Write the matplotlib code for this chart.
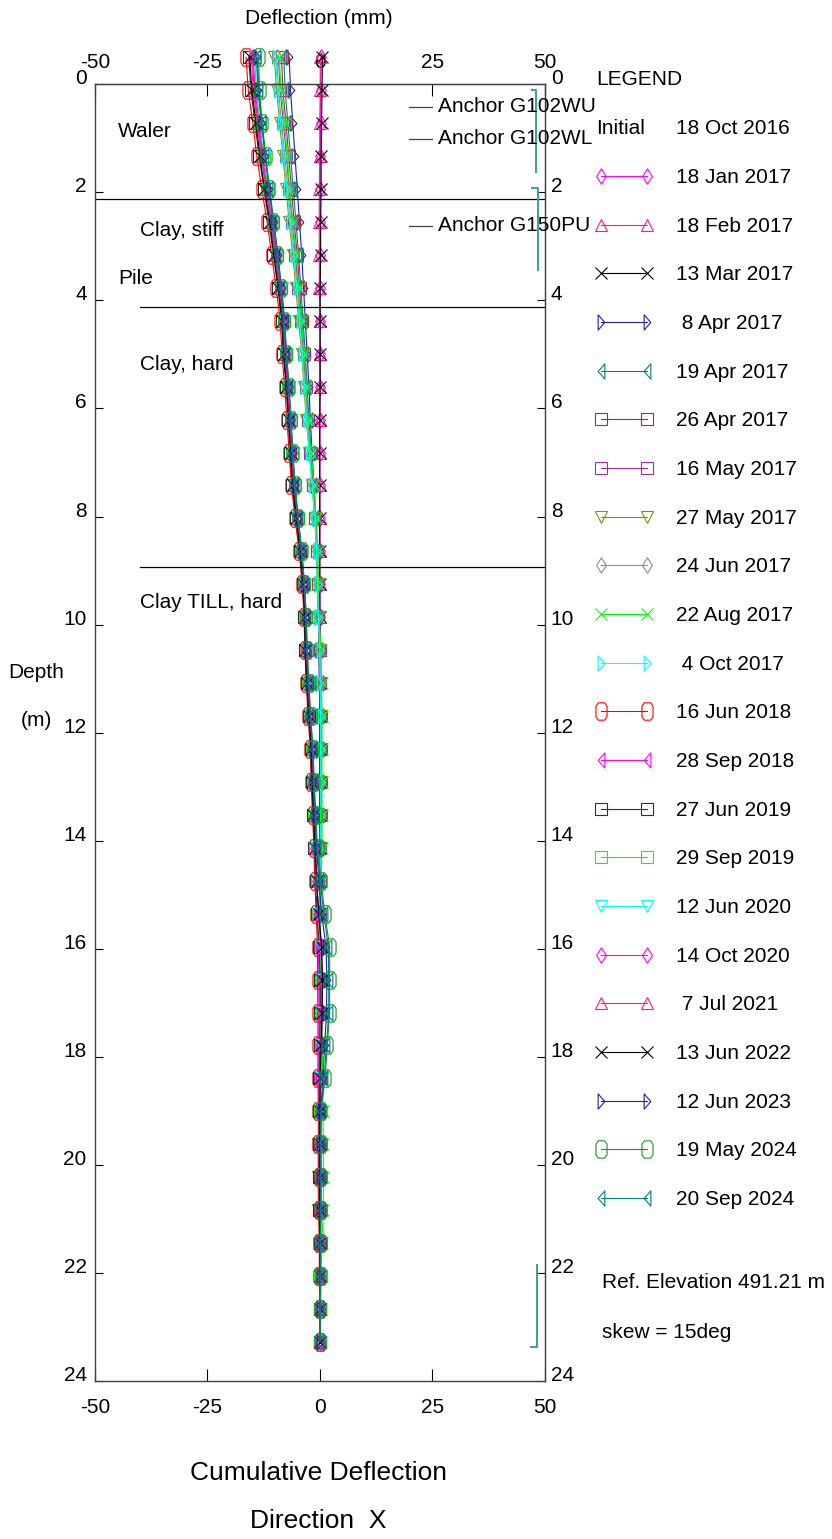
import matplotlib
matplotlib.use("Agg")
import matplotlib.pyplot as plt
from matplotlib.path import Path
from matplotlib.lines import Line2D

plt.rcParams['font.family'] = ['Liberation Sans', 'DejaVu Sans']
plt.rcParams['font.size'] = 15
plt.rcParams['axes.unicode_minus'] = False

# ---------------- data ----------------
DEPTHS = [-0.50, 0.11, 0.72, 1.33, 1.94, 2.55, 3.16, 3.77, 4.38, 4.99,
          5.60, 6.21, 6.82, 7.42, 8.03, 8.64, 9.25, 9.86, 10.47, 11.08,
          11.69, 12.30, 12.91, 13.52, 14.13, 14.74, 15.35, 15.96, 16.57, 17.18,
          17.78, 18.39, 19.00, 19.61, 20.22, 20.83, 21.44, 22.05, 22.66, 23.27]

INITIAL_DATE = "18 Oct 2016"
LABELS = ["18 Jan 2017", "18 Feb 2017", "13 Mar 2017", " 8 Apr 2017", "19 Apr 2017",
          "26 Apr 2017", "16 May 2017", "27 May 2017", "24 Jun 2017", "22 Aug 2017",
          " 4 Oct 2017", "16 Jun 2018", "28 Sep 2018", "27 Jun 2019", "29 Sep 2019",
          "12 Jun 2020", "14 Oct 2020", " 7 Jul 2021", "13 Jun 2022", "12 Jun 2023",
          "19 May 2024", "20 Sep 2024"]

D_18JAN17 = [0.3, 0.2, 0.2, 0.1, 0.1, 0.1, 0.0, 0.0, 0.0, 0.0,
             0.0, 0.0, 0.0, 0.0, 0.0, 0.0, 0.0, 0.1, 0.1, 0.1,
             0.1, 0.1, 0.1, 0.1, 0.1, 0.0, 0.0, 0.0, 0.0, 0.0,
             0.0, 0.0, 0.0, 0.0, 0.0, 0.0, 0.0, 0.0, 0.0, 0.0]
D_18FEB17 = [0.1, 0.1, 0.0, 0.0, -0.1, -0.1, -0.1, -0.1, 0.0, 0.0,
             0.0, 0.0, 0.0, 0.0, 0.0, 0.0, 0.0, 0.0, 0.0, 0.0,
             0.0, 0.0, 0.0, 0.0, 0.0, 0.0, 0.0, 0.0, 0.0, 0.0,
             0.0, 0.0, 0.0, 0.0, 0.0, 0.0, 0.0, 0.0, 0.0, 0.0]
D_13MAR17 = [0.6, 0.5, 0.4, 0.3, 0.3, 0.2, 0.2, 0.1, 0.1, 0.1,
             0.1, 0.0, 0.0, 0.0, 0.0, 0.0, 0.0, 0.0, 0.0, 0.0,
             0.0, 0.0, 0.0, 0.0, 0.0, 0.0, 0.0, 0.0, 0.0, 0.0,
             0.0, 0.0, 0.0, 0.0, 0.0, 0.0, 0.0, 0.0, 0.0, 0.0]
D_08APR17 = [-6.8, -6.5, -6.0, -5.5, -5.0, -4.5, -4.0, -3.6, -3.2, -2.8,
             -2.4, -2.1, -1.7, -1.3, -0.9, -0.6, -0.4, -0.3, -0.2, -0.1,
             0.0, 0.0, 0.0, 0.0, 0.0, 0.0, 0.0, 0.0, 0.0, 0.0,
             0.0, 0.0, 0.0, 0.0, 0.0, 0.0, 0.0, 0.0, 0.0, 0.0]
D_19APR17 = [-8.0, -7.7, -7.1, -6.5, -5.9, -5.3, -4.7, -4.2, -3.7, -3.2,
             -2.8, -2.4, -1.9, -1.4, -1.0, -0.6, -0.4, -0.3, -0.1, 0.0,
             0.1, 0.1, 0.1, 0.1, 0.0, 0.0, 0.0, 0.0, 0.0, 0.0,
             0.0, 0.0, 0.0, 0.0, 0.0, 0.0, 0.0, 0.0, 0.0, 0.0]
D_26APR17 = [-8.5, -8.2, -7.5, -6.9, -6.3, -5.7, -5.0, -4.5, -4.0, -3.4,
             -3.0, -2.6, -2.0, -1.5, -1.0, -0.6, -0.4, -0.3, -0.1, 0.0,
             0.1, 0.1, 0.1, 0.1, 0.1, 0.0, 0.0, 0.0, 0.0, 0.0,
             0.0, 0.0, 0.0, 0.0, 0.0, 0.0, 0.0, 0.0, 0.0, 0.0]
D_16MAY17 = [-9.2, -8.8, -8.1, -7.4, -6.8, -6.1, -5.4, -4.8, -4.2, -3.6,
             -3.1, -2.7, -2.1, -1.5, -1.0, -0.6, -0.4, -0.3, 0.0, 0.1,
             0.2, 0.2, 0.2, 0.2, 0.1, 0.1, 0.0, 0.0, 0.0, 0.0,
             0.0, 0.0, 0.0, 0.0, 0.0, 0.0, 0.0, 0.0, 0.0, 0.0]
D_27MAY17 = [-10.1, -9.6, -8.9, -8.2, -7.5, -6.8, -6.0, -5.3, -4.7, -4.0,
             -3.5, -3.0, -2.3, -1.7, -1.1, -0.7, -0.5, -0.3, 0.0, 0.2,
             0.3, 0.3, 0.3, 0.3, 0.2, 0.1, 0.1, 0.0, 0.0, 0.0,
             0.0, 0.0, 0.0, -0.3, -0.4, -0.3, 0.0, 0.0, 0.0, 0.0]
D_24JUN17 = [-9.6, -9.2, -8.5, -7.8, -7.1, -6.4, -5.7, -5.0, -4.4, -3.8,
             -3.3, -2.8, -2.2, -1.6, -1.1, -0.7, -0.5, -0.3, 0.0, 0.2,
             0.3, 0.3, 0.3, 0.3, 0.2, 0.1, 0.1, 0.0, 0.0, 0.0,
             0.0, 0.0, 0.0, 0.0, 0.0, 0.0, 0.0, 0.0, 0.0, 0.0]
D_22AUG17 = [-9.0, -8.6, -7.8, -7.2, -6.7, -6.0, -5.2, -4.7, -4.1, -3.4,
             -3.0, -2.6, -1.9, -1.3, -0.8, -0.4, -0.3, -0.2, 0.3, 0.4,
             0.5, 0.5, 0.5, 0.5, 0.5, 0.3, 0.2, 0.2, 0.3, 0.5,
             0.6, 0.6, 0.7, 0.8, 0.8, 0.8, 0.5, 0.3, 0.2, 0.1]
D_04OCT17 = [-9.8, -9.4, -8.7, -8.0, -7.3, -6.6, -5.8, -5.1, -4.5, -3.9,
             -3.4, -2.9, -2.3, -1.7, -1.1, -0.7, -0.5, -0.3, 0.0, 0.1,
             0.2, 0.2, 0.2, 0.2, 0.1, 0.1, 0.0, 0.0, 0.0, 0.0,
             0.0, 0.0, 0.0, 0.0, 0.0, 0.0, 0.0, 0.0, 0.0, 0.0]
D_16JUN18 = [-16.4, -15.9, -14.9, -14.0, -12.9, -11.7, -10.7, -9.7, -8.8, -8.4,
             -7.8, -7.3, -6.8, -6.3, -5.5, -4.6, -3.9, -3.5, -3.3, -3.0,
             -2.6, -2.1, -1.9, -1.6, -1.3, -1.1, -0.8, -0.5, -0.5, -0.4,
             -0.4, -0.4, -0.3, -0.3, -0.2, -0.2, -0.1, -0.1, 0.0, 0.0]
D_28SEP18 = [-15.0, -14.6, -13.7, -12.9, -11.9, -10.8, -9.9, -9.0, -8.2, -7.8,
             -7.2, -6.8, -6.3, -5.8, -5.1, -4.3, -3.6, -3.2, -3.0, -2.7,
             -2.3, -1.9, -1.7, -1.4, -1.1, -0.9, -0.6, -0.3, -0.2, -0.2,
             -0.2, -0.2, -0.1, -0.1, -0.1, 0.0, 0.0, 0.0, 0.0, 0.0]
D_27JUN19 = [-15.8, -15.3, -14.4, -13.5, -12.4, -11.3, -10.3, -9.3, -8.5, -8.1,
             -7.5, -7.0, -6.6, -6.1, -5.3, -4.4, -3.8, -3.4, -3.2, -2.9,
             -2.5, -2.0, -1.8, -1.5, -1.2, -0.9, -0.6, -0.1, 0.1, 0.1,
             0.0, -0.1, -0.1, -0.1, -0.1, -0.1, 0.0, 0.0, 0.0, 0.0]
D_29SEP19 = [-14.5, -14.1, -13.3, -12.5, -11.5, -10.5, -9.6, -8.7, -7.9, -7.5,
             -7.0, -6.5, -6.1, -5.6, -4.9, -4.1, -3.5, -3.1, -2.9, -2.6,
             -2.2, -1.8, -1.6, -1.3, -1.0, -0.7, -0.3, 0.2, 0.4, 0.4,
             0.3, 0.2, 0.1, 0.2, 0.3, 0.3, 0.2, 0.1, 0.0, 0.0]
D_12JUN20 = [-14.2, -13.8, -13.0, -12.2, -11.3, -10.3, -9.4, -8.5, -7.8, -7.4,
             -6.9, -6.5, -6.0, -5.6, -4.9, -4.1, -3.5, -3.1, -2.9, -2.7,
             -2.3, -1.8, -1.6, -1.3, -1.0, -0.7, -0.3, 0.3, 0.5, 0.5,
             0.3, 0.1, 0.0, 0.0, 0.0, 0.0, 0.0, 0.0, 0.0, 0.0]
D_14OCT20 = [-14.8, -14.4, -13.5, -12.7, -11.7, -10.7, -9.7, -8.8, -8.0, -7.6,
             -7.1, -6.6, -6.2, -5.7, -5.0, -4.2, -3.6, -3.2, -3.0, -2.7,
             -2.3, -1.8, -1.6, -1.3, -1.0, -0.7, -0.3, 0.3, 0.5, 0.5,
             0.3, 0.1, 0.0, 0.0, 0.0, 0.0, 0.0, 0.0, 0.0, 0.0]
D_07JUL21 = [-15.2, -14.8, -13.9, -13.0, -12.0, -10.9, -9.9, -9.0, -8.2, -7.8,
             -7.2, -6.8, -6.3, -5.9, -5.1, -4.3, -3.7, -3.2, -3.1, -2.8,
             -2.4, -1.9, -1.7, -1.4, -1.0, -0.7, -0.3, 0.4, 0.6, 0.6,
             0.4, 0.2, 0.0, 0.0, 0.0, 0.0, 0.0, 0.0, 0.0, 0.0]
D_13JUN22 = [-15.6, -15.1, -14.2, -13.3, -12.3, -11.1, -10.2, -9.2, -8.4, -8.0,
             -7.4, -6.9, -6.5, -6.0, -5.2, -4.4, -3.7, -3.3, -3.2, -2.9,
             -2.4, -1.9, -1.7, -1.4, -1.0, -0.7, -0.2, 0.4, 0.6, 0.5,
             0.3, 0.1, 0.0, 0.0, 0.0, 0.0, 0.0, 0.0, 0.0, 0.0]
D_12JUN23 = [-14.0, -13.7, -12.9, -12.1, -11.2, -10.2, -9.3, -8.5, -7.8, -7.4,
             -6.9, -6.4, -6.0, -5.5, -4.8, -4.0, -3.4, -3.0, -2.8, -2.5,
             -2.1, -1.6, -1.4, -1.1, -0.7, -0.2, 0.4, 1.4, 1.6, 1.5,
             1.1, 0.7, 0.2, 0.1, 0.1, 0.1, 0.1, 0.0, 0.0, 0.0]
D_19MAY24 = [-13.6, -13.4, -12.8, -12.0, -11.2, -10.3, -9.4, -8.6, -7.9, -7.4,
             -6.8, -6.4, -6.0, -5.5, -4.8, -4.0, -3.4, -3.0, -2.8, -2.4,
             -2.0, -1.5, -1.2, -0.9, -0.5, 0.3, 1.1, 2.2, 2.2, 2.2,
             1.7, 1.2, 0.3, 0.3, 0.3, 0.3, 0.2, 0.2, 0.1, 0.1]
D_20SEP24 = [-13.9, -13.6, -12.9, -12.1, -11.3, -10.4, -9.5, -8.7, -8.0, -7.5,
             -6.9, -6.5, -6.1, -5.6, -4.9, -4.1, -3.5, -3.1, -2.9, -2.5,
             -2.1, -1.6, -1.3, -1.0, -0.6, 0.1, 0.9, 1.9, 2.0, 2.0,
             1.5, 1.0, 0.3, 0.2, 0.2, 0.2, 0.1, 0.1, 0.0, 0.0]

SERIES = [D_18JAN17, D_18FEB17, D_13MAR17, D_08APR17, D_19APR17, D_26APR17,
          D_16MAY17, D_27MAY17, D_24JUN17, D_22AUG17, D_04OCT17, D_16JUN18,
          D_28SEP18, D_27JUN19, D_29SEP19, D_12JUN20, D_14OCT20, D_07JUL21,
          D_13JUN22, D_12JUN23, D_19MAY24, D_20SEP24]

LAYER_NAMES = ["Waler", "Clay, stiff", "Pile", "Clay, hard", "Clay TILL, hard"]
LAYER_X = [-44.8, -40.0, -44.8, -40.0, -40.0]
LAYER_DEPTH = [0.88, 2.70, 3.59, 5.18, 9.60]
BOUNDARY_DEPTH = [2.12, 4.13, 8.94]
BOUNDARY_START = [-50, -40, -40]

ANCHOR_NAMES = ["Anchor G102WU", "Anchor G102WL", "Anchor G150PU"]
ANCHOR_DEPTH = [0.42, 1.01, 2.62]

# ---------------- styles ----------------
OCT = Path([(-0.18, 0.5), (0.18, 0.5), (0.32, 0.3), (0.32, -0.3), (0.18, -0.5),
            (-0.18, -0.5), (-0.32, -0.3), (-0.32, 0.3), (-0.18, 0.5)], closed=True)
TRI_R = Path([(-0.22, 0.5), (0.22, 0.0), (-0.22, -0.5), (-0.22, 0.5)], closed=True)
TRI_L = Path([(0.22, 0.5), (-0.22, 0.0), (0.22, -0.5), (0.22, 0.5)], closed=True)
DIA = Path([(0.0, 0.5), (0.32, 0.0), (0.0, -0.5), (-0.32, 0.0), (0.0, 0.5)], closed=True)

STYLES = [
    ('#FF00FF', DIA, 11), ('#FF1A8C', '^', 9), ('#000000', 'x', 8),
    ('#2020A0', TRI_R, 11), ('#008080', TRI_L, 11), ('#A03030', 's', 8),
    ('#A030A0', 's', 8), ('#8C8C00', 'v', 9), ('#8C8C8C', DIA, 11),
    ('#00FF00', 'x', 8), ('#00FFFF', TRI_R, 11), ('#FF0000', OCT, 12.5),
    ('#FF00FF', TRI_L, 11), ('#303030', 's', 8), ('#00FF00', 's', 8),
    ('#00FFFF', 'v', 9), ('#FF00FF', DIA, 11), ('#FF1A8C', '^', 9),
    ('#000000', 'x', 8), ('#2020A0', TRI_R, 11), ('#1A961A', OCT, 12.5),
    ('#008080', TRI_L, 11),
]

W, H = 832, 1539
fig = plt.figure(figsize=(W / 100, H / 100), dpi=100)
X0, X1, Y0, Y1 = 95, 544.5, 84.3, 1381
ax = fig.add_axes([X0 / W, 1 - Y1 / H, (X1 - X0) / W, (Y1 - Y0) / H])

handles = [Line2D([], [], linestyle='none', marker=None)]
for vals, (col, mk, ms), lab in zip(SERIES, STYLES, LABELS):
    ax.plot(vals, DEPTHS, color=col, lw=0.8, marker=mk, ms=ms, mfc='none',
            mec=col, mew=0.8, clip_on=False)
    handles.append(Line2D([], [], color=col, lw=0.8, marker=mk, ms=ms,
                          mfc='none', mec=col, mew=0.8))

ax.set_xlim(-50, 50)
ax.set_ylim(24, 0)
ax.set_xticks([-50, -25, 0, 25, 50])
ax.set_yticks(range(0, 25, 2))
ax.tick_params(axis='x', direction='in', length=8.6, pad=12, labelsize=15,
               bottom=True, top=False)
ax.tick_params(axis='y', direction='in', length=5.8, pad=6, labelsize=15,
               left=True, right=False)
for tk in ax.yaxis.get_major_ticks():
    tk.label1.set_va('baseline')
for s in ax.spines.values():
    s.set_color('#404040')
    s.set_linewidth(1.0)

secx = ax.secondary_xaxis('top')
secx.set_xticks([-50, -25, 0, 25, 50])
secx.tick_params(direction='in', length=8.6, pad=9, labelsize=15)
secx.spines['top'].set_color('#404040')
secy = ax.secondary_yaxis('right')
secy.set_yticks(range(0, 25, 2))
secy.tick_params(direction='in', length=5.8, pad=4.5, labelsize=15)
secy.spines['right'].set_color('#707070')
for tk in secy.yaxis.get_major_ticks():
    tk.label2.set_va('baseline')

# layer boundaries and names
for d, x0 in zip(BOUNDARY_DEPTH, BOUNDARY_START):
    ax.plot([x0, 50], [d, d], color='black', lw=0.9)
for name, x, d in zip(LAYER_NAMES, LAYER_X, LAYER_DEPTH):
    ax.text(x, d, name, ha='left', va='center', fontsize=15)

# anchors
for name, d in zip(ANCHOR_NAMES, ANCHOR_DEPTH):
    ax.plot([19.9, 25.0], [d, d], color='#404040', lw=0.9)
    ax.text(26.2, d, name, ha='left', va='center', fontsize=15, clip_on=False)

# teal brackets
bc = '#3AA0A0'
ax.plot([47.2, 48.1, 48.1], [0.10, 0.10, 1.62], color=bc, lw=1.4, clip_on=False)
ax.plot([47.2, 48.6, 48.6], [1.92, 1.92, 3.43], color=bc, lw=1.4, clip_on=False)
ax.plot([48.4, 48.4, 47.0], [21.85, 23.37, 23.37], color=bc, lw=1.4, clip_on=False)

# legend
leg = fig.legend(handles, [INITIAL_DATE] + LABELS, loc='upper left',
                 bbox_to_anchor=(594.5 / W, 1 - 119.5 / H), frameon=False,
                 numpoints=2, handlelength=2.81, handletextpad=1.1,
                 labelspacing=1.424, borderpad=0, borderaxespad=0, fontsize=15)

def ftext(x, y, s, **kw):
    fig.text(x / W, 1 - y / H, s, **kw)

ftext(596, 85, "LEGEND", ha='left', va='baseline', fontsize=15)
ftext(596, 134, "Initial", ha='left', va='baseline', fontsize=15)
ftext(601.7, 1288, "Ref. Elevation 491.21 m", ha='left', va='baseline', fontsize=15)
ftext(601.7, 1338, "skew = 15deg", ha='left', va='baseline', fontsize=15)
ftext(318.5, 24.5, "Deflection (mm)", ha='center', va='baseline', fontsize=15)
ftext(36, 673, "Depth", ha='center', va='center', fontsize=15)
ftext(36, 720, "(m)", ha='center', va='center', fontsize=15)
ftext(318.5, 1473, "Cumulative Deflection", ha='center', va='center', fontsize=19)
ftext(318.5, 1521, "Direction  X", ha='center', va='center', fontsize=19)

fig.savefig("out.png", dpi=100)
